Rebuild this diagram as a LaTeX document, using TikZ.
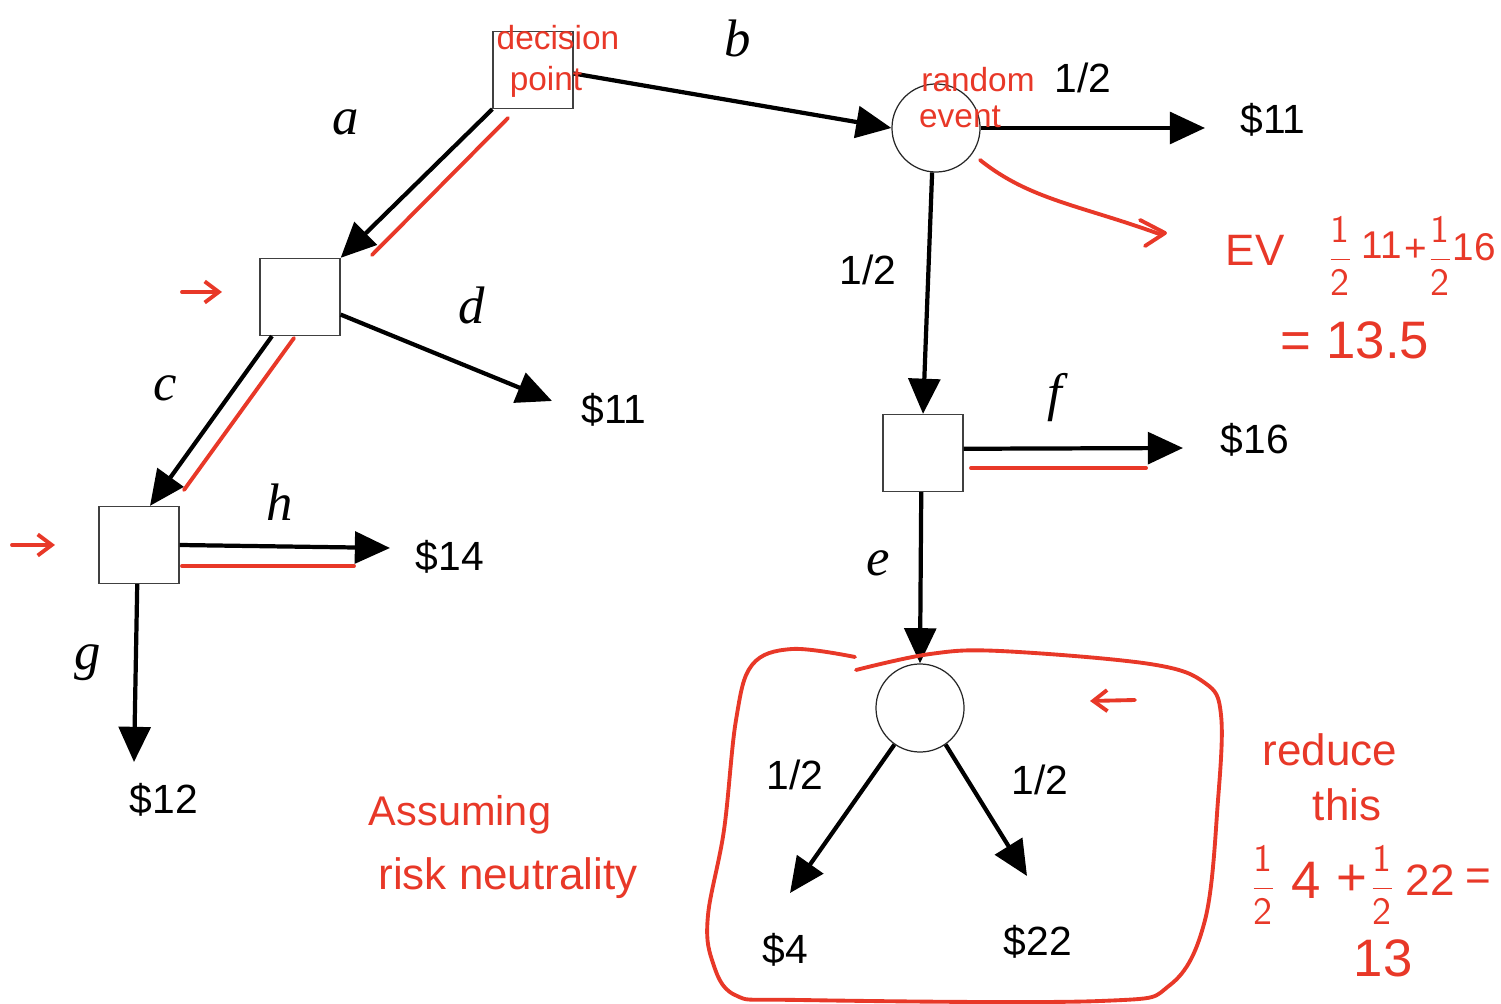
\documentclass[tikz,border=0pt]{standalone}
\usepackage{fontspec}
\setmainfont{Liberation Sans}
\newfontfamily\tnr{Liberation Serif}
\usetikzlibrary{arrows.meta}
\definecolor{redink}{RGB}{232,56,40}
\newcommand{\halffrac}{$\displaystyle\frac{\mathsf{1}}{\mathsf{2}}$}
\begin{document}
\begin{tikzpicture}[x=0.01cm,y=-0.01cm,
  decbox/.style={draw=black!75,line width=0.35pt,minimum width=0.8cm,minimum height=0.77cm,inner sep=0pt},
  chance/.style={draw=black!85,line width=0.35pt,circle,minimum size=0.88cm,inner sep=0pt},
  arr/.style={line width=1.2pt,-{Triangle[length=10pt,width=9pt]}},
  pay/.style={font=\fontsize{11.6}{13}\selectfont,inner sep=0pt},
  prob/.style={font=\fontsize{11.6}{13}\selectfont,inner sep=0pt},
  lett/.style={font=\tnr\itshape\fontsize{15}{17}\selectfont,inner sep=0pt},
  ink/.style={draw=redink,line width=1.1pt,line cap=round,line join=round},
  inkarr/.style={ink,-{Straight Barb[length=4pt,width=6pt]}},
  inktxt/.style={text=redink,font=\fontsize{9.5}{11}\selectfont,inner sep=0pt},
  smink/.style={text=redink,font=\fontsize{11}{12}\selectfont,inner sep=0pt},
  midink/.style={text=redink,font=\fontsize{12.5}{14}\selectfont,inner sep=0pt},
  bigink/.style={text=redink,font=\fontsize{15}{17}\selectfont,inner sep=0pt},
  fracink/.style={text=redink,font=\fontsize{11}{12}\selectfont,inner sep=0pt}]
\useasboundingbox (0,0) rectangle (1501,1004);

% nodes
\node[decbox] (A) at (533,70) {};
\node[chance] (B) at (936,128) {};
\node[decbox] (C) at (300,297) {};
\node[decbox] (D) at (139,545) {};
\node[decbox] (E) at (923,453) {};
\node[chance] (F) at (920,708) {};

% payoffs
\node[pay] (v1) at (1273,120) {\$11};
\node[pay] (v2) at (614,410) {\$11};
\node[pay] (v3) at (450,557) {\$14};
\node[pay] (v4) at (164,800) {\$12};
\node[pay] (v5) at (1255,440) {\$16};
\node[pay] (v6) at (785,950) {\$4};
\node[pay] (v7) at (1038,942) {\$22};

% arrow tips
\coordinate (t1) at (1205,128);
\coordinate (t2) at (552,401);
\coordinate (t3) at (390,548);
\coordinate (t4) at (134,762);
\coordinate (t5) at (1183,448);
\coordinate (t6) at (790,893);
\coordinate (t7) at (1027,876);

% connectors
\draw[arr] (A.south west) -- (C.north east);
\draw[arr] ([yshift=-1pt]A.east) -- (B.west);
\draw[arr] (B.east) -- (t1);
\draw[arr] (B.265) -- (E.north);
\draw[arr] ([yshift=-5pt]C.east) -- (t2);
\draw[arr] ([xshift=-0.28cm]C.south) -- ([xshift=0.11cm]D.north);
\draw[arr] (D.east) -- (t3);
\draw[arr] ([xshift=-0.5pt]D.south) -- (t4);
\draw[arr] ([yshift=1.2pt]E.east) -- (t5);
\draw[arr] ([xshift=-0.5pt]E.south) -- (F.north);
\draw[arr] (F.235) -- (t6);
\draw[arr] (F.305) -- (t7);

% letters
\node[lett] (la) at (346,122) {a};
\node[lett] (lb) at (738,38) {b};
\node[lett] (lc) at (165,388) {c};
\node[lett] (ld) at (472,305) {d};
\node[lett] (le) at (878,563) {e};
\node[lett] (lf) at (1055,398) {f};
\node[lett] (lg) at (88,663) {g};
\node[lett] (lh) at (280,502) {h};

% probabilities
\node[prob] (p1) at (1083,78) {1/2};
\node[prob] (p2) at (868,270) {1/2};
\node[prob] (p3) at (795,775) {1/2};
\node[prob] (p4) at (1040,780) {1/2};

% red annotations: strokes
\draw[ink] (508,118) -- (372,255);
\draw[ink] (294,338) -- (184,490);
\draw[ink] (182,566) -- (354,566);
\draw[ink] (971,468) -- (1146,468);
\draw[inkarr] (182,292) -- (222,292);
\draw[inkarr] (12,545) -- (55,545);
\draw[ink] (980,160) .. controls (1030,200) and (1080,205) .. (1162,235);
\draw[ink] (1140,220) -- (1165,233) -- (1145,246);
\draw[inkarr] (1135,700) -- (1090,701);
\draw[ink] plot[smooth,tension=0.6] coordinates {(855,657) (792,649) (752,665) (736,720) (724,830) (708,915) (712,960) (735,995) (800,1000) (1100,1001) (1170,985) (1205,920) (1218,800) (1221,715) (1205,683) (1150,664) (1000,651) (930,654) (856,670)};

% red annotations: text
\node[inktxt] (n1) at (558,38) {decision};
\node[inktxt] (n2) at (546,82) {point};
\node[inktxt] (n3) at (978,80) {random};
\node[inktxt] (n4) at (960,117) {event};
\node[midink] (ev) at (1255,250) {EV};
\node[fracink] (ev1) at (1340,256) {\halffrac};
\node[smink] (ev2) at (1382,245) {11};
\node[smink] (ev3) at (1416,250) {+};
\node[fracink] (ev4) at (1440,256) {\halffrac};
\node[smink] (ev5) at (1474,247) {16};
\node[bigink] (n6) at (1355,340) {= 13.5};
\node[midink] (n7) at (1330,750) {reduce};
\node[midink] (n8) at (1347,805) {this};
\node[fracink] (r1) at (1263,885) {\halffrac};
\node[bigink] (r2) at (1306,880) {4};
\node[bigink] (r3) at (1352,880) {+};
\node[fracink] (r4) at (1382,885) {\halffrac};
\node[midink] (r5) at (1430,880) {22};
\node[midink] (r6) at (1478,880) {=};
\node[bigink] (n10) at (1383,958) {13};
\node[text=redink,font=\fontsize{11.8}{13}\selectfont,inner sep=0pt] (n11) at (460,815) {Assuming};
\node[midink] (n12) at (508,878) {risk neutrality};
\end{tikzpicture}
\end{document}
